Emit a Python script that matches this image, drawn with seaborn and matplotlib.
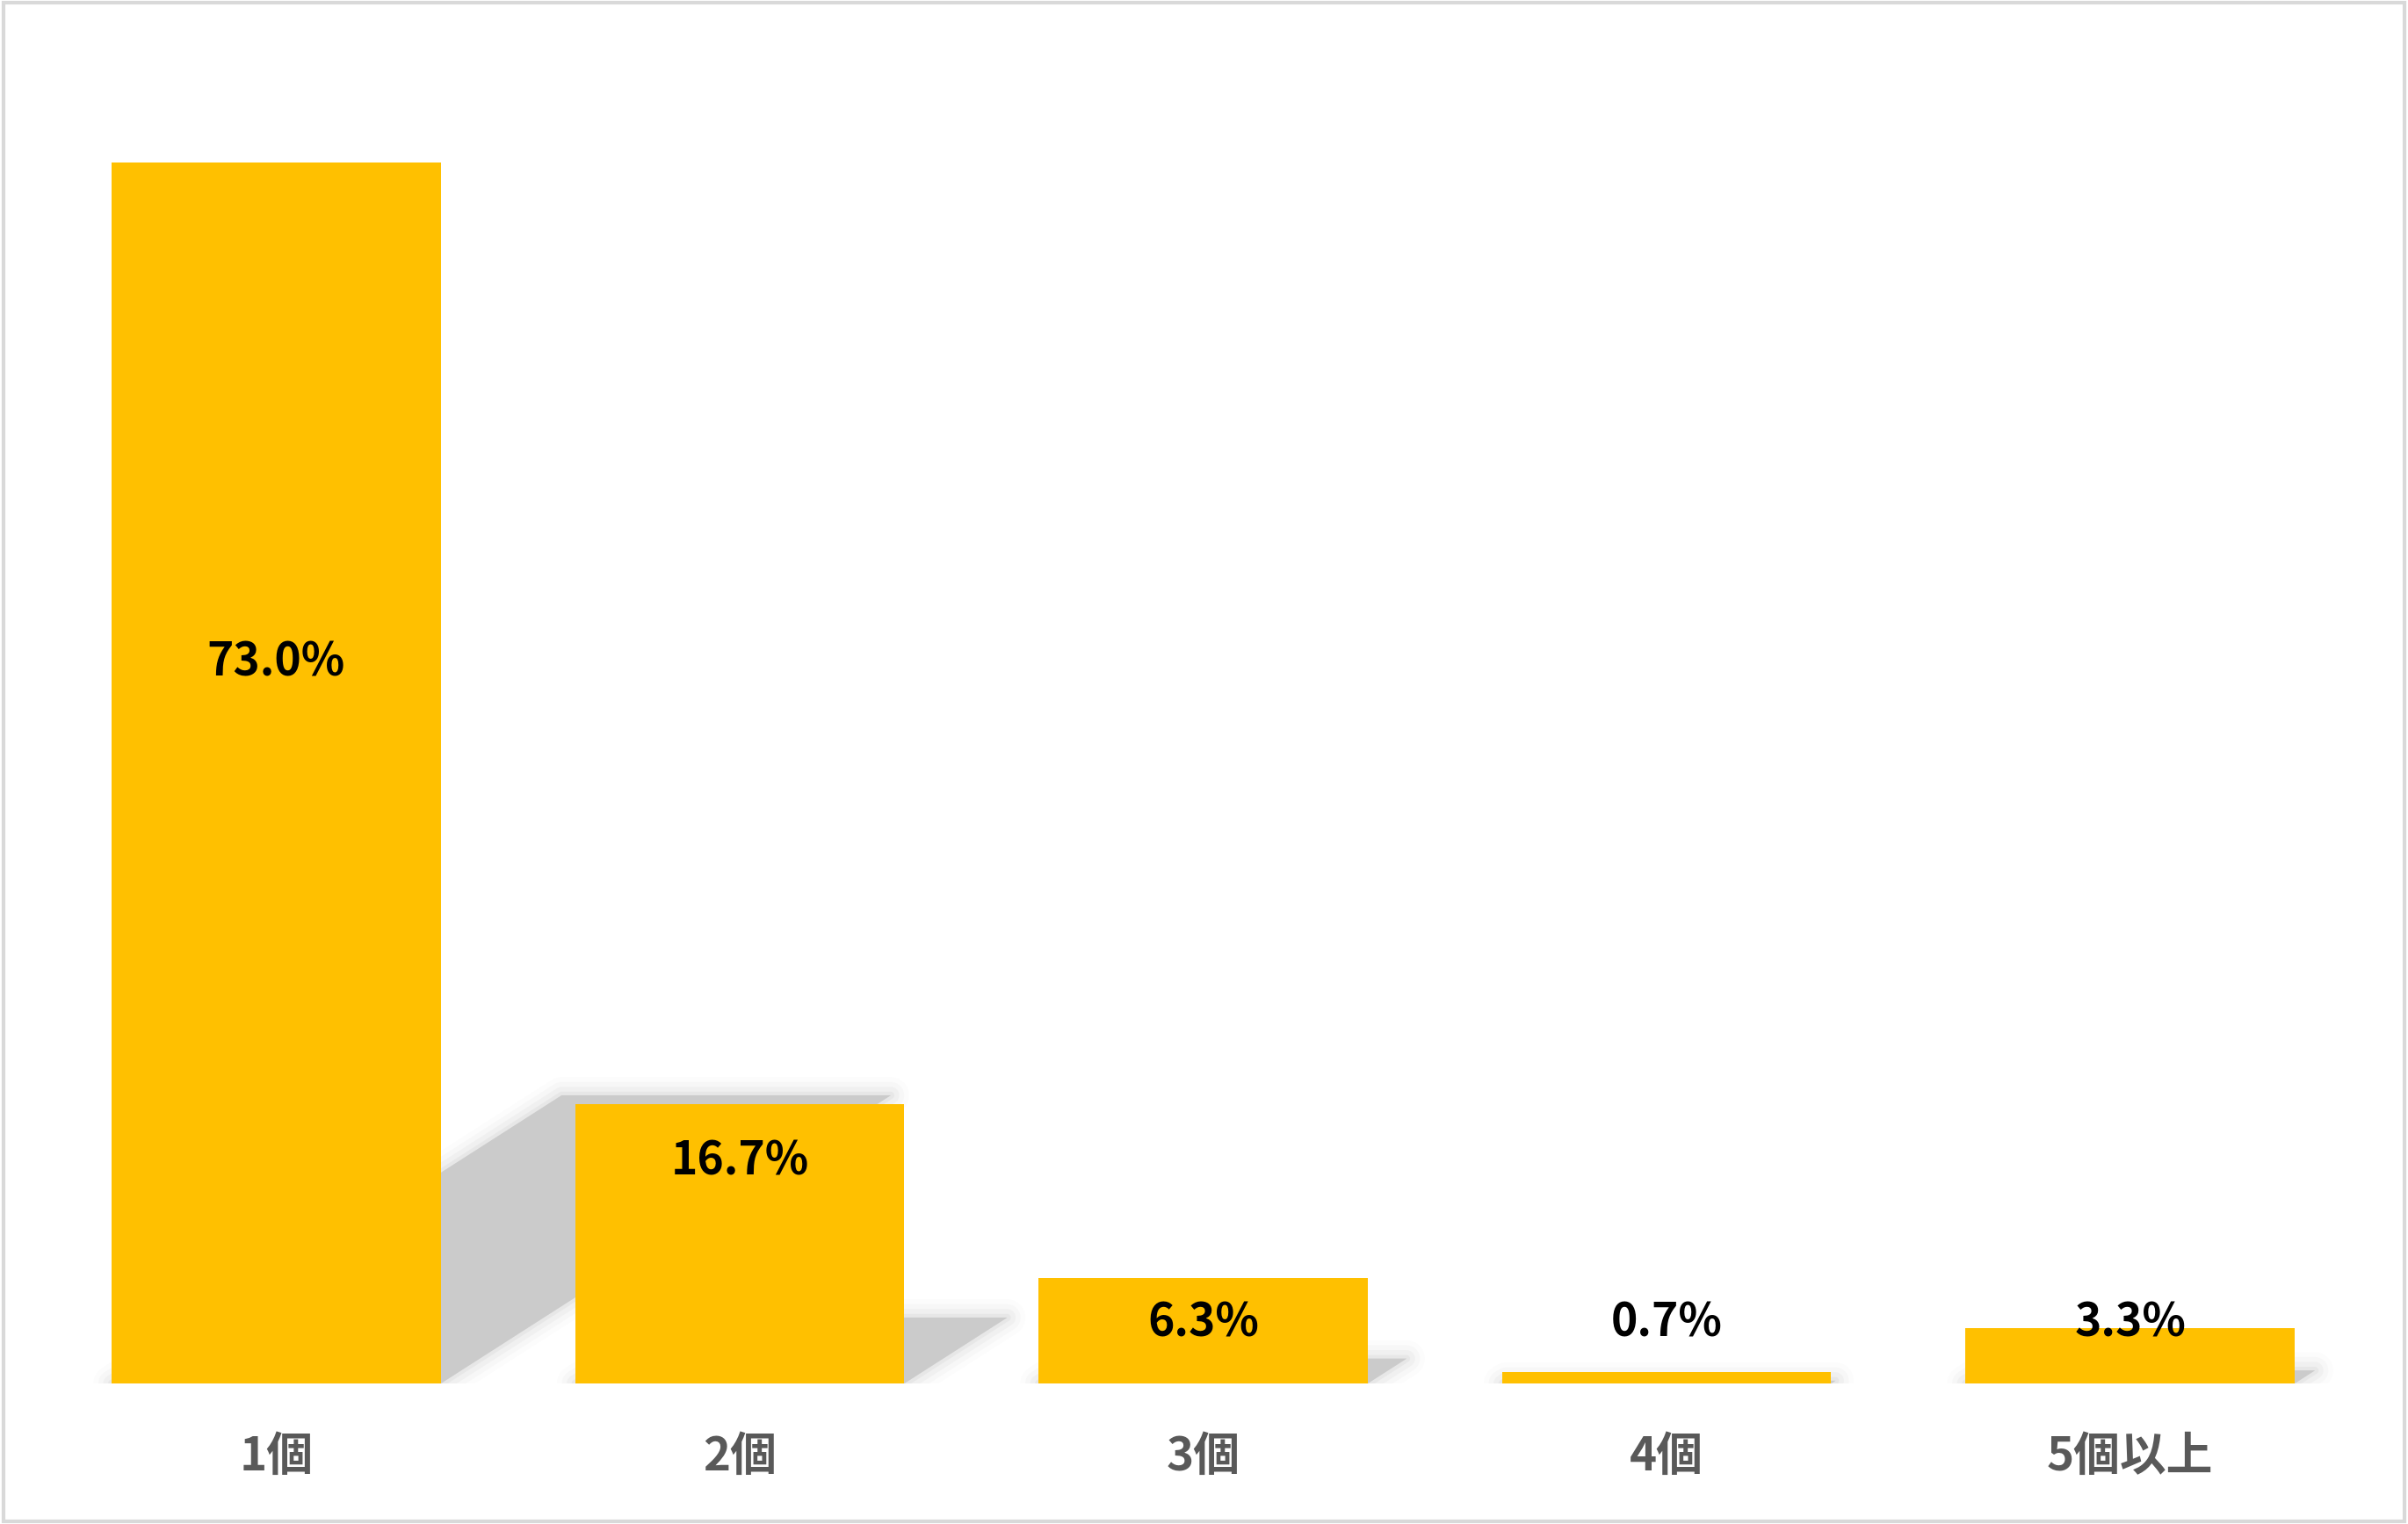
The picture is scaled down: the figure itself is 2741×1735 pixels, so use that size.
import matplotlib
matplotlib.use('Agg')
import matplotlib.pyplot as plt
from matplotlib.patches import Polygon, Rectangle
import seaborn as sns

# データ
categories = ['1個', '2個', '3個', '4個', '5個以上']
values = [73.0, 16.7, 6.3, 0.7, 3.3]
value_labels = ['73.0%', '16.7%', '6.3%', '0.7%', '3.3%']
label_y = [43.1, 13.3, 3.6, 3.6, 3.6]   # ラベルの縦位置 (%)

sns.set_style('white')
plt.rcParams['font.family'] = ['Noto Sans CJK JP', 'DejaVu Sans']

fig = plt.figure(figsize=(27.41, 17.35), dpi=100)
ax = fig.add_axes([0.0185, 0.0922, 0.9623, 0.878])

sns.barplot(x=categories, y=values, color='#FFC000', saturation=1,
            width=0.71, linewidth=0, ax=ax, zorder=3)

# 右上方向への遠近法の影 (ぼかし風に重ねる)
shear_x = 0.0133
squash_y = 0.236
for bar in ax.patches[:]:
    x0 = bar.get_x()
    w = bar.get_width()
    h = bar.get_height()
    pts = [(x0, 0), (x0 + w, 0),
           (x0 + w + shear_x * h, squash_y * h),
           (x0 + shear_x * h, squash_y * h)]
    for lw, a in [(30, 0.06), (22, 0.1), (14, 0.16), (6, 0.25)]:
        ax.add_patch(Polygon(pts, closed=True, facecolor='#c8c8c8', edgecolor='#cfcfcf',
                             lw=lw, alpha=a, joinstyle='round', zorder=1))
    ax.add_patch(Polygon(pts, closed=True, facecolor='#cbcbcb', lw=0, zorder=1.5))

for i, (txt, y) in enumerate(zip(value_labels, label_y)):
    ax.text(i, y, txt, ha='center', va='center', fontsize=37,
            fontweight='bold', color='black', zorder=5)

ax.set_xlim(-0.5, 4.5)
ax.set_ylim(0, 80)
ax.set_yticks([])
ax.set_xlabel('')
ax.set_ylabel('')
ax.tick_params(axis='x', length=0, pad=41, labelsize=38, labelcolor='#595959')
for lab in ax.get_xticklabels():
    lab.set_fontweight('bold')
for s in ax.spines.values():
    s.set_visible(False)
ax.set_facecolor('none')

# 外枠
fig.patches.append(Rectangle((0.0015, 0.0015), 0.997, 0.997, transform=fig.transFigure,
                             fill=False, edgecolor='#d9d9d9', lw=3))

fig.savefig('out.png', dpi=100, facecolor='white')
